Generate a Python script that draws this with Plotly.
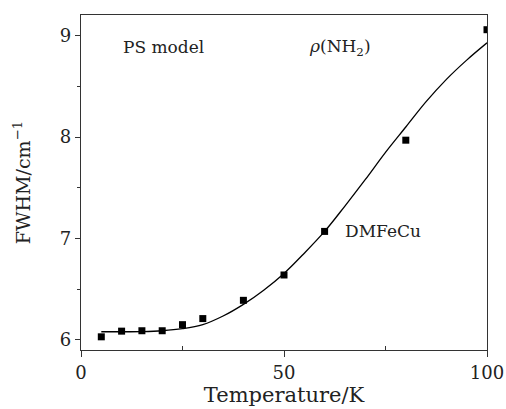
import plotly.graph_objects as go

# Measured data (Temperature K, FWHM cm^-1)
temp_pts = [5, 10, 15, 20, 25, 30, 40, 50, 60, 80, 100]
fwhm_pts = [6.03, 6.086, 6.09, 6.09, 6.15, 6.21, 6.39, 6.64, 7.07, 7.97, 9.06]

# PS model fit curve
temp_fit = [5, 10, 15, 20, 25, 30, 35, 40, 45, 50, 55, 60, 65, 70, 75, 80, 85, 90, 95, 100]
fwhm_fit = [6.08, 6.08, 6.082, 6.09, 6.11, 6.15, 6.235, 6.35, 6.49, 6.655, 6.855, 7.07,
            7.32, 7.58, 7.85, 8.10, 8.35, 8.57, 8.76, 8.93]

x_ticks = [0, 50, 100]
y_ticks = [6, 7, 8, 9]

FONT = "DejaVu Serif"
AX = "#333333"

fig = go.Figure()
fig.add_trace(go.Scatter(x=temp_fit, y=fwhm_fit, mode="lines",
                         line=dict(color="black", width=1.3, shape="spline", smoothing=1.0),
                         hoverinfo="skip", showlegend=False))
fig.add_trace(go.Scatter(x=temp_pts, y=fwhm_pts, mode="markers",
                         marker=dict(symbol="square", size=7, color="black"), showlegend=False))

fig.add_annotation(x=20.2, y=8.885, text="PS model", showarrow=False, font=dict(family=FONT, size=17, color="#222"))
fig.add_annotation(x=63.8, y=8.885, text="<i>ρ</i>(NH<sub>2</sub>)", showarrow=False, font=dict(family=FONT, size=17, color="#222"))
fig.add_annotation(x=74.4, y=7.07, text="DMFeCu", showarrow=False, font=dict(family=FONT, size=17, color="#222"))

fig.update_layout(
    width=506, height=409,
    margin=dict(l=81, r=19, t=15, b=59, autoexpand=False),
    plot_bgcolor="white", paper_bgcolor="white",
    font=dict(family=FONT, size=18, color="#222"),
    xaxis=dict(range=[0, 100], tickvals=x_ticks, ticks="outside", ticklen=6, tickcolor=AX,
               showline=True, linecolor=AX, linewidth=1.2, mirror=True, showgrid=False, zeroline=False,
               automargin=False,
               minor=dict(tickvals=[25, 75], ticks="inside", ticklen=4, tickcolor=AX),
               title=dict(text="Temperature/K", standoff=4, font=dict(size=21)), tickfont=dict(size=18)),
    yaxis=dict(range=[5.9, 9.205], tickvals=y_ticks, ticks="outside", ticklen=5, tickcolor=AX,
               showline=True, linecolor=AX, linewidth=1.2, mirror=True, showgrid=False, zeroline=False,
               automargin=False,
               minor=dict(tickvals=[6.5, 7.5, 8.5], ticks="outside", ticklen=3, tickcolor=AX),
               title=dict(text="FWHM/cm<sup>−1</sup>", standoff=24, font=dict(size=19)), tickfont=dict(size=18)),
)

fig.write_html("out.html")
